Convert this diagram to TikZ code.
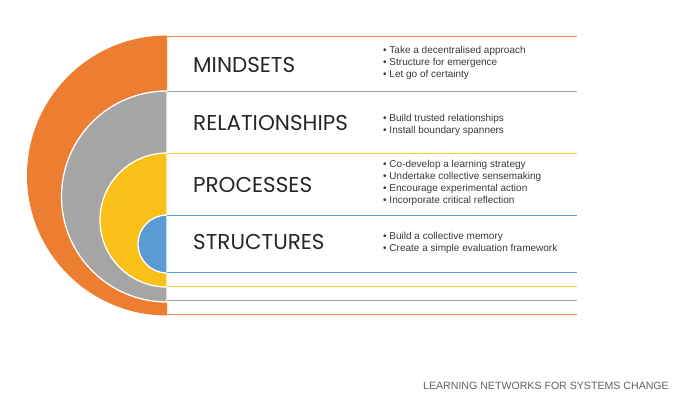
\documentclass[tikz,border=0pt]{standalone}
\usepackage{fontspec}
\setmainfont{Liberation Sans}
\newfontfamily\headfont{Poppins}
\definecolor{mindorange}{HTML}{ED7D31}
\definecolor{relgray}{HTML}{A5A5A5}
\definecolor{procyellow}{HTML}{FBBF1A}
\definecolor{structblue}{HTML}{5B9BD5}
\begin{document}
\begin{tikzpicture}[x=1pt, y=-1pt,
    ring/.style = {draw=white, line width=1.3pt},
    rule/.style = {line width=0.9pt},
    head/.style = {anchor=west, inner sep=0pt, text=black!85, font=\headfont\fontsize{21.5}{24}\selectfont},
    items/.style = {anchor=west, inner sep=0pt, align=left, text=black!78, font=\fontsize{10}{12}\selectfont},
    foot/.style = {anchor=east, inner sep=0pt, text=black!62, font=\fontsize{10.6}{12}\selectfont}]
    \useasboundingbox (0,0) rectangle (680,410);
    % half rings, outside in
    \fill[mindorange] (167,35.5) arc[start angle=90, end angle=270, radius=140pt] -- cycle;
    \filldraw[ring, fill=relgray] (167,91) arc[start angle=90, end angle=270, radius=105.5pt] -- cycle;
    \filldraw[ring, fill=procyellow] (167,153) arc[start angle=90, end angle=270, radius=67pt] -- cycle;
    \filldraw[ring, fill=structblue] (167,215) arc[start angle=90, end angle=270, radius=29pt] -- cycle;
    % rules
    \draw[rule, mindorange!85] (167,36) -- (577,36);
    \draw[rule, relgray] (167,91) -- (577,91);
    \draw[rule, procyellow!85] (167,153) -- (577,153);
    \draw[rule, structblue] (167,215) -- (577,215);
    \draw[rule, structblue] (167,272.5) -- (577,272.5);
    \draw[rule, procyellow!85] (167,286.5) -- (577,286.5);
    \draw[rule, relgray] (167,300.5) -- (577,300.5);
    \draw[rule, mindorange!85] (167,314.5) -- (577,314.5);
    % labels
    \node[head] (mind) at (193,65) {MINDSETS};
    \node[head] (rel) at (193,123) {RELATIONSHIPS};
    \node[head] (proc) at (193,185) {PROCESSES};
    \node[head] (struct) at (193,242) {STRUCTURES};
    \node[items] (mindlist) at (383,63) {\textbullet\ Take a decentralised approach\\ \textbullet\ Structure for emergence\\ \textbullet\ Let go of certainty};
    \node[items] (rellist) at (383,125) {\textbullet\ Build trusted relationships\\ \textbullet\ Install boundary spanners};
    \node[items] (proclist) at (383,183) {\textbullet\ Co-develop a learning strategy\\ \textbullet\ Undertake collective sensemaking\\ \textbullet\ Encourage experimental action\\ \textbullet\ Incorporate critical reflection};
    \node[items] (structlist) at (383,242.7) {\textbullet\ Build a collective memory\\ \textbullet\ Create a simple evaluation framework};
    \node[foot] (title) at (669,386) {LEARNING NETWORKS FOR SYSTEMS CHANGE};
\end{tikzpicture}
\end{document}
